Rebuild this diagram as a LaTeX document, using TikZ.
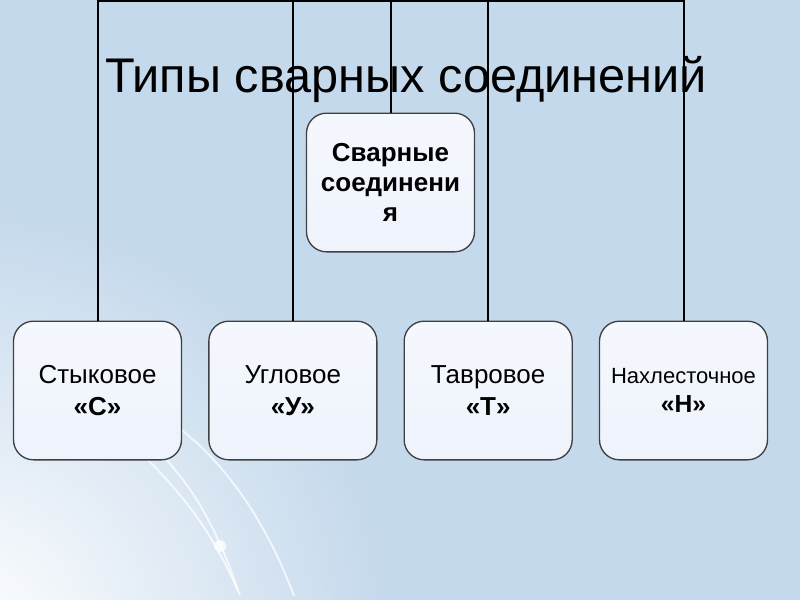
\documentclass[tikz,border=0pt]{standalone}
\usepackage{fontspec}
\setmainfont{Liberation Sans}
\usetikzlibrary{positioning, calc}
\definecolor{Slide_Blue}{HTML}{C5D9EC}
\definecolor{Box_Fill}{HTML}{EEF3FC}
\definecolor{Box_Edge}{HTML}{404040}

\begin{document}
\begin{tikzpicture}[x=0.75pt, y=-0.75pt,
    weldbox/.style={draw=Box_Edge, line width=1pt, rounded corners=15pt,
        top color=white!40!Box_Fill, bottom color=Box_Fill,
        minimum width=126pt, minimum height=104pt, inner sep=2pt,
        align=center, font=\fontsize{19.5}{24}\selectfont},
    link/.style={line width=1.5pt, black},
    streak/.style={white, line width=1.4pt, opacity=0.75}]

    % Slide background with the light corner glow
    \fill[Slide_Blue] (0,0) rectangle (800,600);
    \begin{scope}
        \clip (0,0) rectangle (800,600);
        \shade[inner color=white, outer color=Slide_Blue] (-40,640) circle (430);
        \draw[streak] (128,440) .. controls (170,482) and (205,515) .. (240,595);
        \draw[streak] (148,440) .. controls (185,478) and (210,510) .. (238,590);
        \draw[streak] (168,420) .. controls (215,452) and (262,510) .. (294,596);
        \fill[white, opacity=0.8] (220,546) circle (6);
    \end{scope}

    % Boxes
    \node[weldbox, font=\fontsize{19.5}{22.5}\selectfont\bfseries] (root) at (390.5,182.5) {Сварные\\соединени\\я};
    \node[weldbox] (butt) at (97.5,390.5) {Стыковое\\\textbf{«С»}};
    \node[weldbox, right=19.5pt of butt] (corner) {Угловое\\\textbf{«У»}};
    \node[weldbox, right=19.5pt of corner] (tee) {Тавровое\\\textbf{«Т»}};
    \node[weldbox, right=19.5pt of tee, font=\fontsize{16.5}{22}\selectfont] (lap) {Нахлесточное\\\textbf{\fontsize{18.5}{22}\selectfont«Н»}};

    % Connectors from the top bar
    \coordinate (bar) at (0,1);
    \draw[link] (butt.north) -- (butt.north |- bar) -- (lap.north |- bar) -- (lap.north);
    \foreach \n in {corner, tee, root}
        \draw[link] (\n.north) -- (\n.north |- bar);

    % Title
    \node[font=\fontsize{36.5}{43}\selectfont, anchor=base] (title) at (406,92) {Типы сварных соединений};
\end{tikzpicture}
\end{document}
